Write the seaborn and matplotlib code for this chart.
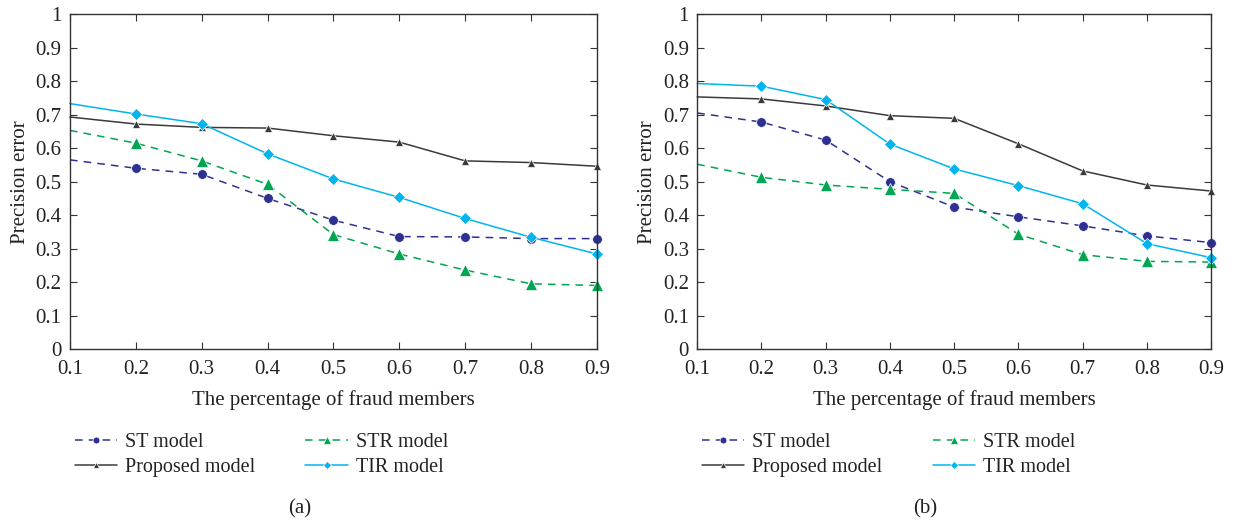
import numpy as np
import pandas as pd
import seaborn as sns
import matplotlib.pyplot as plt
from matplotlib.ticker import FuncFormatter

x_vals = [0.1, 0.2, 0.3, 0.4, 0.5, 0.6, 0.7, 0.8, 0.9]

# panel (a)
st_a = [0.565, 0.540, 0.522, 0.450, 0.385, 0.336, 0.335, 0.330, 0.330]
str_a = [0.653, 0.615, 0.562, 0.492, 0.342, 0.284, 0.236, 0.195, 0.190]
prop_a = [0.693, 0.672, 0.662, 0.660, 0.637, 0.618, 0.562, 0.557, 0.546]
tir_a = [0.733, 0.702, 0.673, 0.583, 0.508, 0.453, 0.390, 0.334, 0.284]

# panel (b)
st_b = [0.705, 0.678, 0.624, 0.500, 0.424, 0.395, 0.368, 0.338, 0.318]
str_b = [0.552, 0.513, 0.490, 0.477, 0.465, 0.343, 0.282, 0.262, 0.260]
prop_b = [0.753, 0.747, 0.726, 0.697, 0.689, 0.613, 0.532, 0.490, 0.472]
tir_b = [0.793, 0.785, 0.745, 0.612, 0.538, 0.488, 0.434, 0.315, 0.273]

models = ["ST model", "STR model", "Proposed model", "TIR model"]
panels = {"(a)": [st_a, str_a, prop_a, tir_a], "(b)": [st_b, str_b, prop_b, tir_b]}

styles = {
    "ST model": dict(color="#2e3192", ls=(0, (5, 4)), marker="o", ms=7),
    "STR model": dict(color="#00a651", ls=(0, (5, 4)), marker="^", ms=9),
    "Proposed model": dict(color="#3a3a3a", ls="-", marker="^", ms=6),
    "TIR model": dict(color="#00b4f0", ls="-", marker="D", ms=6),
}

sns.set_style("ticks")
plt.rcParams["font.family"] = ["Liberation Serif", "DejaVu Serif"]

fig = plt.figure(figsize=(12.34, 5.25), dpi=100)
axes = [fig.add_axes([0.0567, 0.335, 0.427, 0.638]),
        fig.add_axes([0.565, 0.335, 0.4165, 0.638])]
caption_x = [0.243, 0.75]

for ax, (cap, series), cx in zip(axes, panels.items(), caption_x):
    handles = {}
    for name, vals in zip(models, series):
        s = styles[name]
        df = pd.DataFrame({"x": x_vals, "y": vals})
        sns.lineplot(data=df, x="x", y="y", ax=ax, color=s["color"], linestyle=s["ls"],
                     marker=s["marker"], markersize=s["ms"], markeredgewidth=0.5,
                     markeredgecolor="white", markevery=slice(1, None), lw=1.1,
                     clip_on=False)
        handles[name] = ax.lines[-1]
    ax.set_xlim(0.1, 0.9)
    ax.set_ylim(0, 1)
    ax.set_xticks(np.arange(0.1, 0.91, 0.1))
    ax.set_yticks(np.arange(0, 1.01, 0.1))
    ax.xaxis.set_major_formatter(FuncFormatter(lambda v, p: f"{v:.1f}"))
    ax.yaxis.set_major_formatter(FuncFormatter(lambda v, p: f"{round(v, 1):g}"))
    ax.tick_params(direction="in", top=True, right=True, labelsize=15, length=5,
                   color="#333", labelcolor="#222")
    ax.tick_params(axis="x", pad=8)
    ax.tick_params(axis="y", pad=6)
    for sp in ax.spines.values():
        sp.set_color("#333")
        sp.set_linewidth(1.0)
    ax.set_xlabel("The percentage of fraud members", fontsize=15, color="#222", labelpad=8)
    ax.set_ylabel("Precision error", fontsize=15, color="#222", labelpad=4)

    pos = ax.get_position()
    order = ["ST model", "Proposed model", "STR model", "TIR model"]
    leg = fig.legend([handles[k] for k in order], order, ncol=2, frameon=False,
                     loc="upper left", bbox_to_anchor=(pos.x0 - 0.011, 0.21),
                     fontsize=14.5, handlelength=2.1, columnspacing=2.5,
                     labelspacing=0.3, handletextpad=0.4, markerscale=0.7)
    for t in leg.get_texts():
        t.set_color("#222")
    fig.text(cx, 0.012, cap, ha="center", va="bottom", fontsize=15, color="#222")

fig.savefig("out.png", dpi=100)
